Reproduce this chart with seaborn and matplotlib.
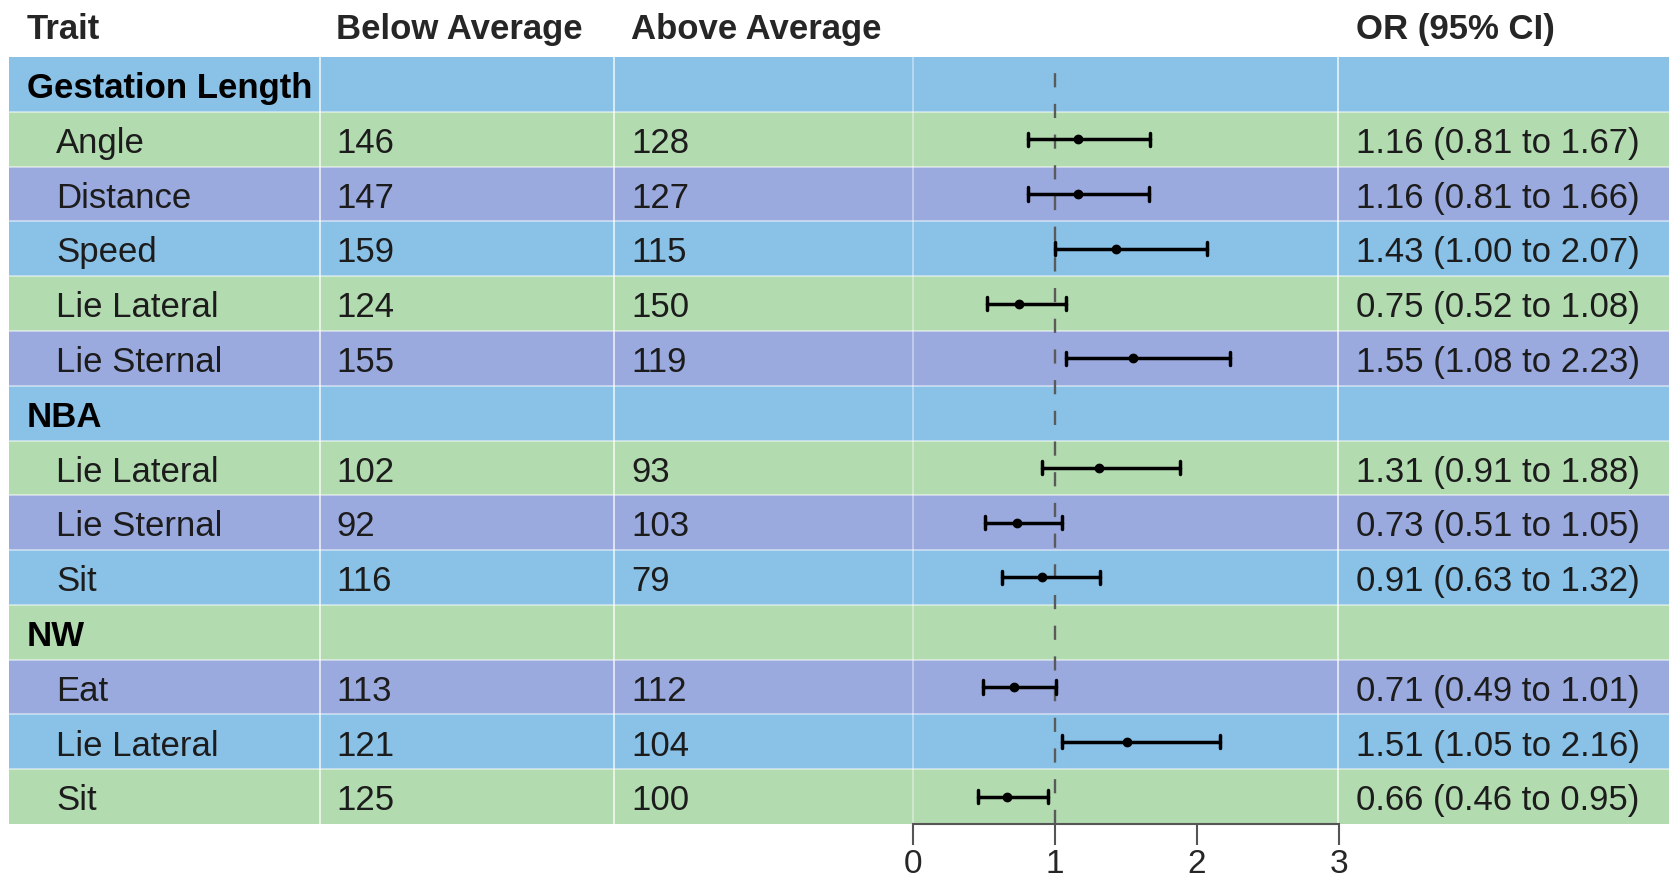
import numpy as np
import pandas as pd
import matplotlib
matplotlib.use("Agg")
import matplotlib.pyplot as plt
import seaborn as sns

# table contents (None = group header row)
traits = ["Gestation Length", "Angle", "Distance", "Speed", "Lie Lateral", "Lie Sternal",
          "NBA", "Lie Lateral", "Lie Sternal", "Sit",
          "NW", "Eat", "Lie Lateral", "Sit"]
is_group = [True, False, False, False, False, False,
            True, False, False, False,
            True, False, False, False]
below_avg = [None, 146, 147, 159, 124, 155, None, 102, 92, 116, None, 113, 121, 125]
above_avg = [None, 128, 127, 115, 150, 119, None, 93, 103, 79, None, 112, 104, 100]
odds_ratio = [None, 1.16, 1.16, 1.43, 0.75, 1.55, None, 1.31, 0.73, 0.91, None, 0.71, 1.51, 0.66]
ci_low = [None, 0.81, 0.81, 1.00, 0.52, 1.08, None, 0.91, 0.51, 0.63, None, 0.49, 1.05, 0.46]
ci_high = [None, 1.67, 1.66, 2.07, 1.08, 2.23, None, 1.88, 1.05, 1.32, None, 1.01, 2.16, 0.95]
headers = ["Trait", "Below Average", "Above Average", "OR (95% CI)"]
x_ticks = [0, 1, 2, 3]

band_colors = ["#89C1E7", "#B3DBB0", "#9BAADE"]

sns.set_theme(style="white")
plt.rcParams['font.family'] = ['Liberation Sans', 'DejaVu Sans']

W, H = 1674, 884
fig = plt.figure(figsize=(W / 100, H / 100), dpi=100)

# table geometry in pixels
top, bottom = 57, 824
left, right = 9, 1669
col_lines = [320, 614, 913, 1338]
plot_l, plot_r = 913, 1339
n = len(traits)

ax_tab = fig.add_axes([left / W, (H - bottom) / H, (right - left) / W, (bottom - top) / H])
ax_tab.set_xlim(left, right)
ax_tab.set_ylim(n - 0.5, -0.5)
ax_tab.axis("off")

for i in range(n):
    ax_tab.axhspan(i - 0.5, i + 0.5, color=band_colors[i % 3], lw=0, zorder=0)
    if i > 0:
        ax_tab.axhline(i - 0.5, color="white", lw=1.2, alpha=0.55, zorder=1)
for cx in col_lines:
    ax_tab.axvline(cx, color="white", lw=1.2, alpha=0.45 if cx == 913 else 0.8, zorder=1)

fs = 25
txt_col = "#1c1c1c"
base = 0.25  # baseline offset below row centre, in rows
for i in range(n):
    y = i + base
    if is_group[i]:
        ax_tab.text(27, y, traits[i], fontsize=fs, fontweight="bold", va="baseline", color="black")
        continue
    ax_tab.text(56, y, traits[i], fontsize=fs, va="baseline", color=txt_col)
    ax_tab.text(336, y, str(below_avg[i]), fontsize=fs, va="baseline", color=txt_col)
    ax_tab.text(631, y, str(above_avg[i]), fontsize=fs, va="baseline", color=txt_col)
    ax_tab.text(1356, y, f"{odds_ratio[i]:.2f} ({ci_low[i]:.2f} to {ci_high[i]:.2f})",
                fontsize=fs, va="baseline", color=txt_col)

# header row
for hx, label in zip([27, 336, 631, 1356], headers):
    fig.text(hx / W, 1 - 39 / H, label, fontsize=fs, fontweight="bold", va="baseline", ha="left")

# forest plot: long-form frame with low / OR / high per row
recs = []
for i in range(n):
    if is_group[i]:
        continue
    for v in (ci_low[i], odds_ratio[i], ci_high[i]):
        recs.append({"row": i, "value": v})
df = pd.DataFrame(recs)

ax = fig.add_axes([plot_l / W, (H - bottom) / H, (plot_r - plot_l) / W, (bottom - top) / H])
ax.patch.set_alpha(0)
ax.axvline(1, color="#5a5a5a", lw=1.7, dashes=(6, 7), zorder=1)
sns.pointplot(data=df, x="value", y="row", order=list(range(n)), orient="h",
              estimator="median", errorbar=("pi", 100), capsize=0.24,
              color="black", linestyle="none", markersize=5,
              err_kws={"linewidth": 2.5}, ax=ax, zorder=3)

ax.set_xlim(0, 3)
ax.set_ylim(n - 0.5, -0.5)
ax.set_xticks(x_ticks)
ax.set_xticklabels([str(t) for t in x_ticks], fontsize=24)
ax.set_yticks([])
ax.set_xlabel("")
ax.set_ylabel("")
for s in ["top", "right", "left"]:
    ax.spines[s].set_visible(False)
ax.spines["bottom"].set_color("#555555")
ax.spines["bottom"].set_linewidth(1.5)
ax.tick_params(axis="x", direction="out", length=15, width=1.5, color="#555555",
               pad=3, bottom=True)

fig.savefig("out.png", dpi=100)
